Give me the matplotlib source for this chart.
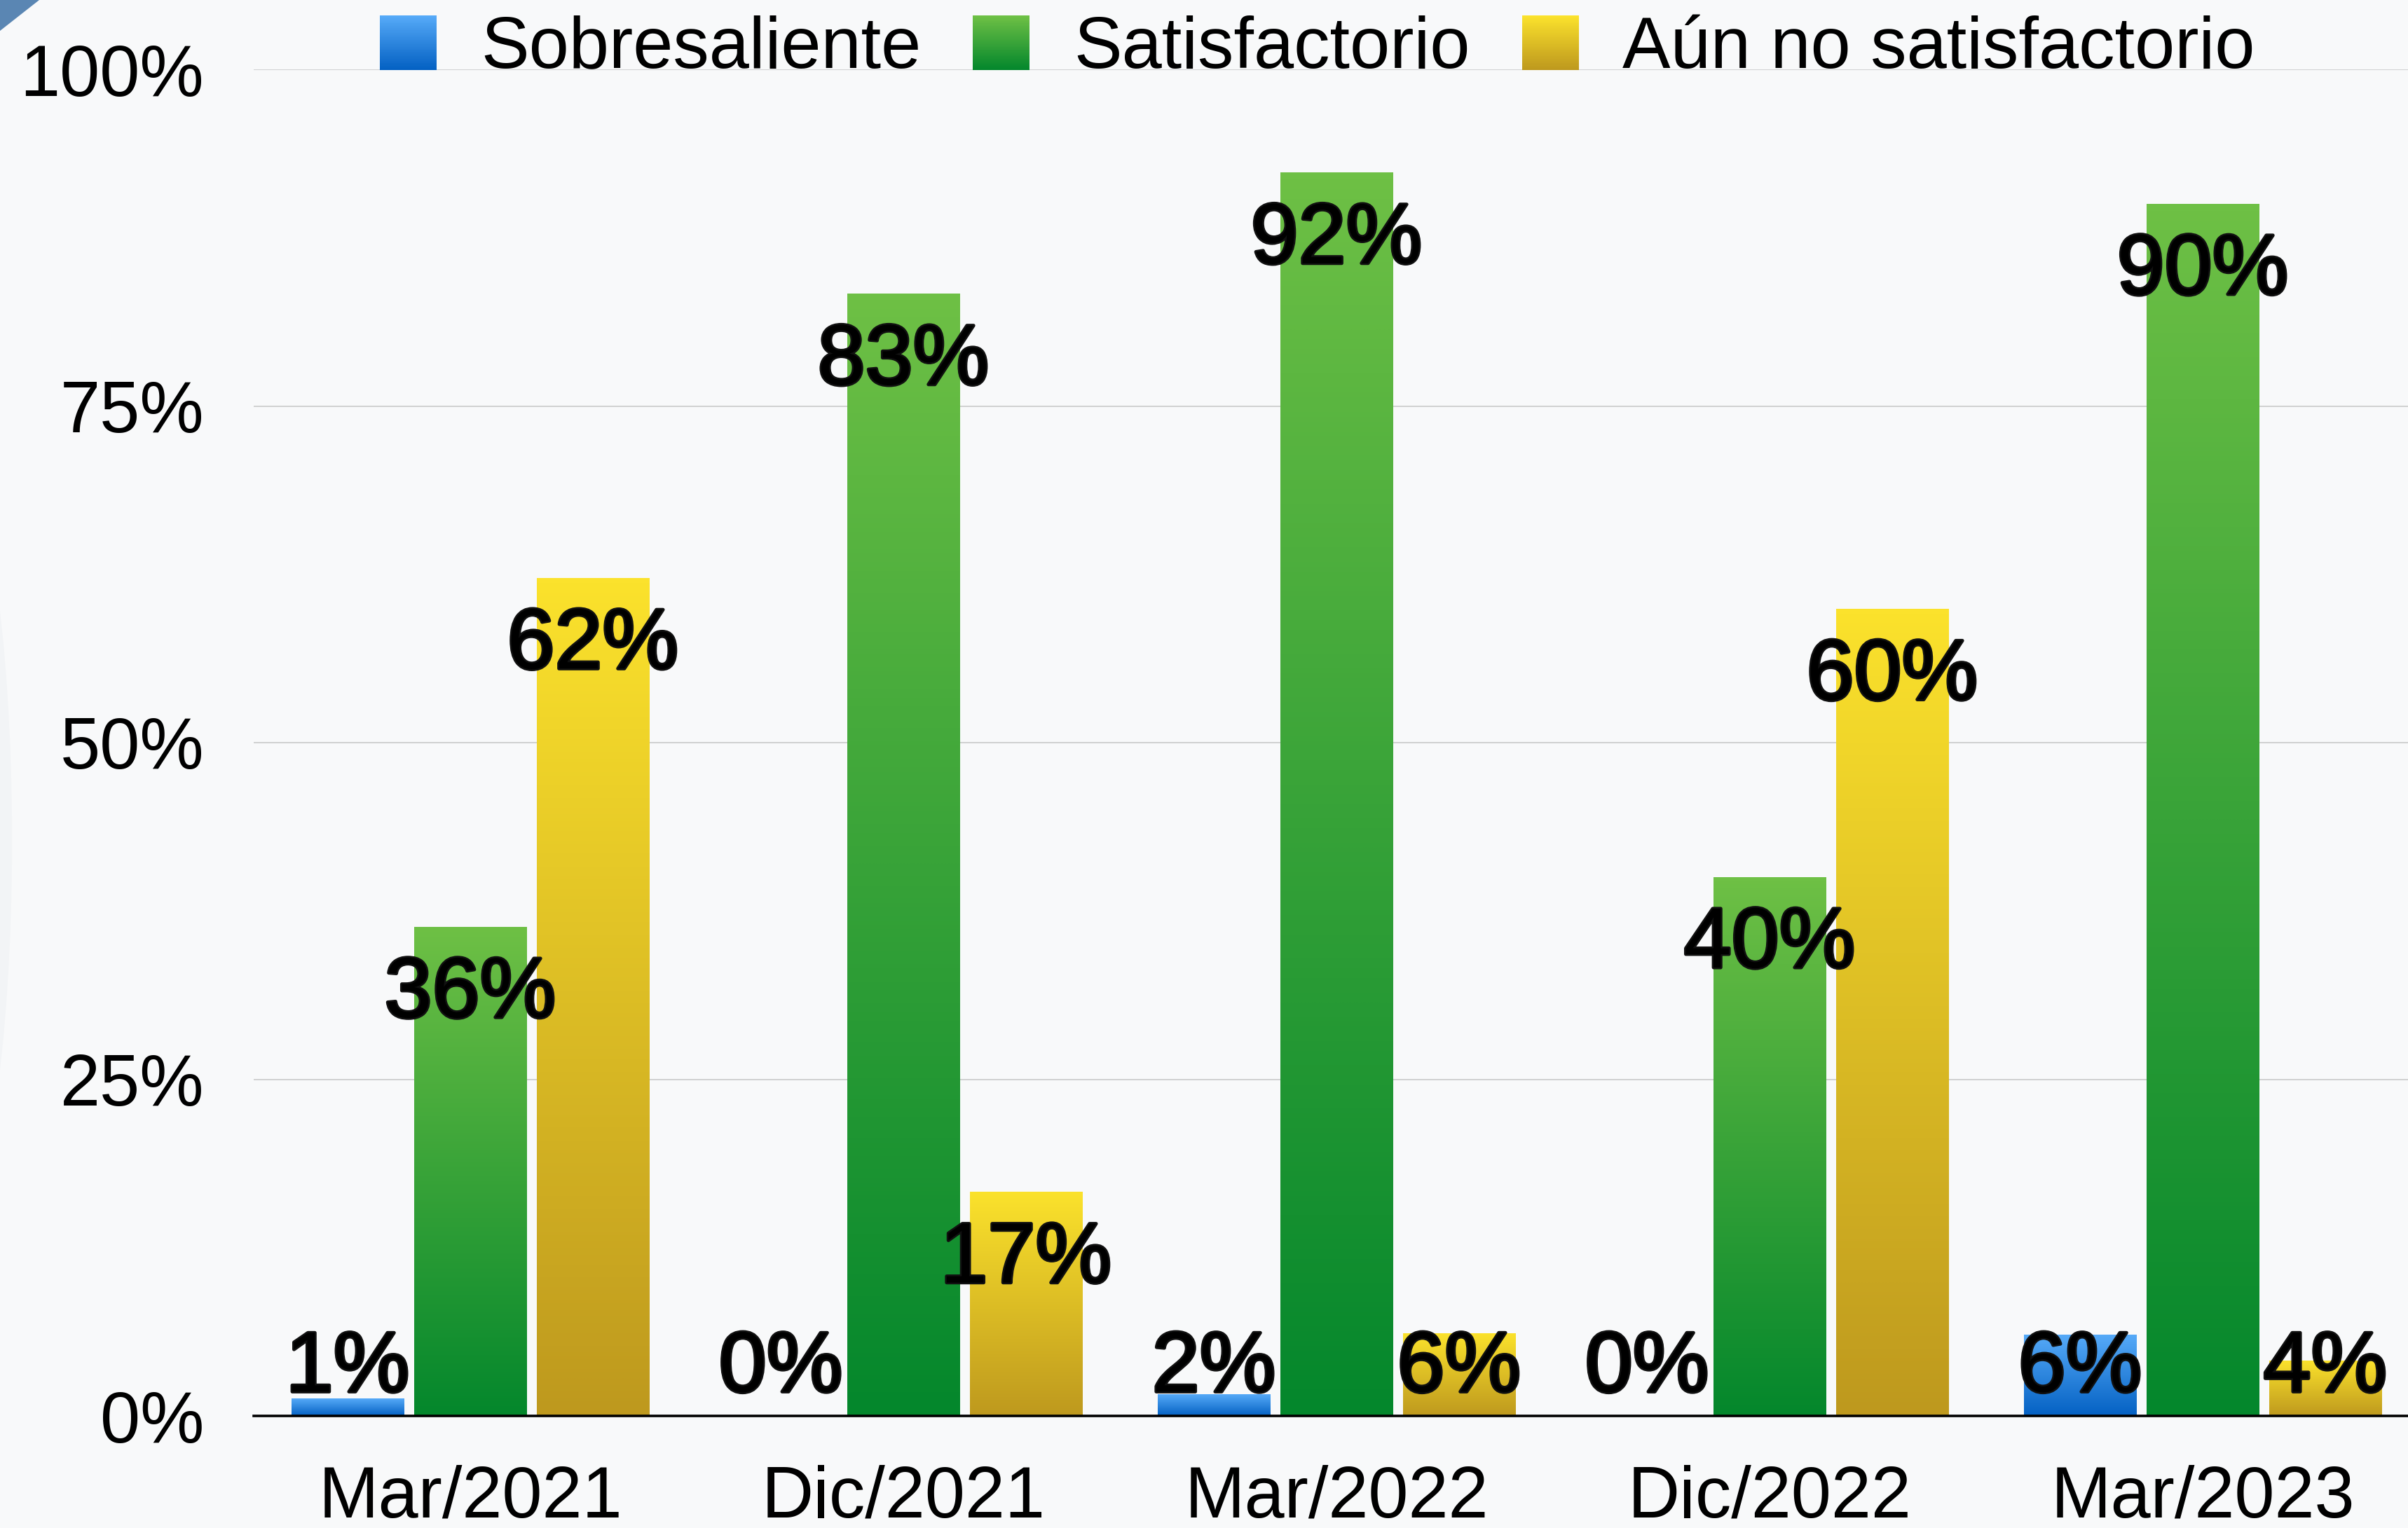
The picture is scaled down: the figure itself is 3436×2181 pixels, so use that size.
import numpy as np
import matplotlib
matplotlib.use("Agg")
import matplotlib.pyplot as plt
from matplotlib.patches import Rectangle, Polygon, Ellipse
from matplotlib.legend_handler import HandlerBase
from matplotlib.colors import LinearSegmentedColormap, to_rgb
import matplotlib.patheffects as pe

plt.rcParams['font.family'] = ['Liberation Sans', 'DejaVu Sans']

# ---------------- data ----------------
categories = ["Mar/2021", "Dic/2021", "Mar/2022", "Dic/2022", "Mar/2023"]
series_names = ["Sobresaliente", "Satisfactorio", "Aún no satisfactorio"]
sobresaliente = [1.3, 0.0, 1.6, 0.0, 6.0]
satisfactorio = [36.3, 83.3, 92.3, 40.0, 90.0]
aun_no = [62.2, 16.6, 6.1, 59.9, 4.1]
ytick_values = [0, 25, 50, 75, 100]
ytick_labels = ["0%", "25%", "50%", "75%", "100%"]

# gradient colours (top, bottom)
grad_colors = [("#56AAF8", "#0461C3"),
               ("#6EC045", "#04872C"),
               ("#FBE22C", "#BE991E")]

W, H, DPI = 3437, 2181, 200
fig = plt.figure(figsize=(W / DPI, H / DPI), dpi=DPI)
fig.patch.set_facecolor("#F8F9FA")

# subtle background decoration
fig.patches.append(Ellipse((-0.02, 0.45), 0.05, 0.5, transform=fig.transFigure,
                           facecolor="#F2F4F6", edgecolor="none", zorder=0))
fig.patches.append(Polygon([(0, 1), (56 / W, 1), (0, 1 - 44 / H)], closed=True,
                           transform=fig.transFigure, facecolor="#5A86B3",
                           edgecolor="none", zorder=1))

ax = fig.add_axes([362 / W, 160 / H, 1 - 362 / W, (2021 - 99) / H])
ax.set_facecolor("none")

x = np.arange(len(categories))
width = 0.26
offset = 0.283
all_series = [sobresaliente, satisfactorio, aun_no]

for k, (vals, (ctop, cbot)) in enumerate(zip(all_series, grad_colors)):
    cmap = LinearSegmentedColormap.from_list(f"g{k}", [cbot, ctop])
    bars = ax.bar(x + (k - 1) * offset, vals, width, color="none",
                  edgecolor="none", zorder=2)
    for rect, v in zip(bars, vals):
        if v <= 0:
            continue
        bx, bw, bh = rect.get_x(), rect.get_width(), rect.get_height()
        grad = np.linspace(0, 1, 256).reshape(-1, 1)
        ax.imshow(grad, extent=[bx, bx + bw, 0, bh], origin="lower",
                  cmap=cmap, aspect="auto", zorder=2, interpolation="bilinear")
    for rect, v in zip(bars, vals):
        cx = rect.get_x() + rect.get_width() / 2
        ty = max(v - 6.7, 1.8)
        ax.text(cx, ty, f"{v:.0f}%", ha="center", va="baseline", fontsize=44,
                color="black", zorder=5,
                path_effects=[pe.withStroke(linewidth=1.8, foreground="#111111")])

ax.set_xlim(-0.5, (W - 671) / 618)
ax.set_ylim(0, 100)
ax.set_xticks(x)
ax.set_xticklabels(categories, fontsize=37)
ax.set_yticks(ytick_values)
ax.set_yticklabels(ytick_labels, fontsize=37)
ax.tick_params(axis="x", length=0, pad=25)
ax.tick_params(axis="y", length=0, pad=25.5)
ax.yaxis.grid(True, color="#C9C9C9", linewidth=0.6, zorder=0)
ax.set_axisbelow(True)
for s in ["left", "right", "top"]:
    ax.spines[s].set_visible(False)
ax.spines["bottom"].set_color("black")
ax.spines["bottom"].set_linewidth(1.3)
ax.spines["bottom"].set_zorder(4)


class GradHandler(HandlerBase):
    def __init__(self, top, bottom, n=40):
        super().__init__()
        self.top = np.array(to_rgb(top))
        self.bottom = np.array(to_rgb(bottom))
        self.n = n

    def create_artists(self, legend, orig_handle, xdescent, ydescent, width,
                       height, fontsize, trans):
        arts = []
        for i in range(self.n):
            f = i / (self.n - 1)
            c = self.bottom * (1 - f) + self.top * f
            arts.append(Rectangle((-xdescent, -ydescent + i * height / self.n),
                                  width, height / self.n * 1.02,
                                  facecolor=c, edgecolor="none", transform=trans))
        return arts


handles = [Rectangle((0, 0), 1, 1, facecolor=c[0]) for c in grad_colors]
handler_map = {h: GradHandler(c[0], c[1]) for h, c in zip(handles, grad_colors)}
fig.legend(handles, series_names, loc="center", bbox_to_anchor=(0.547, 1 - 70 / H),
           bbox_transform=fig.transFigure, ncol=3, frameon=False, fontsize=37,
           handlelength=0.79, handleheight=0.79, handletextpad=0.61,
           columnspacing=0.72, borderpad=0, borderaxespad=0,
           handler_map=handler_map)

fig.savefig("out.png", dpi=DPI, facecolor=fig.get_facecolor())
